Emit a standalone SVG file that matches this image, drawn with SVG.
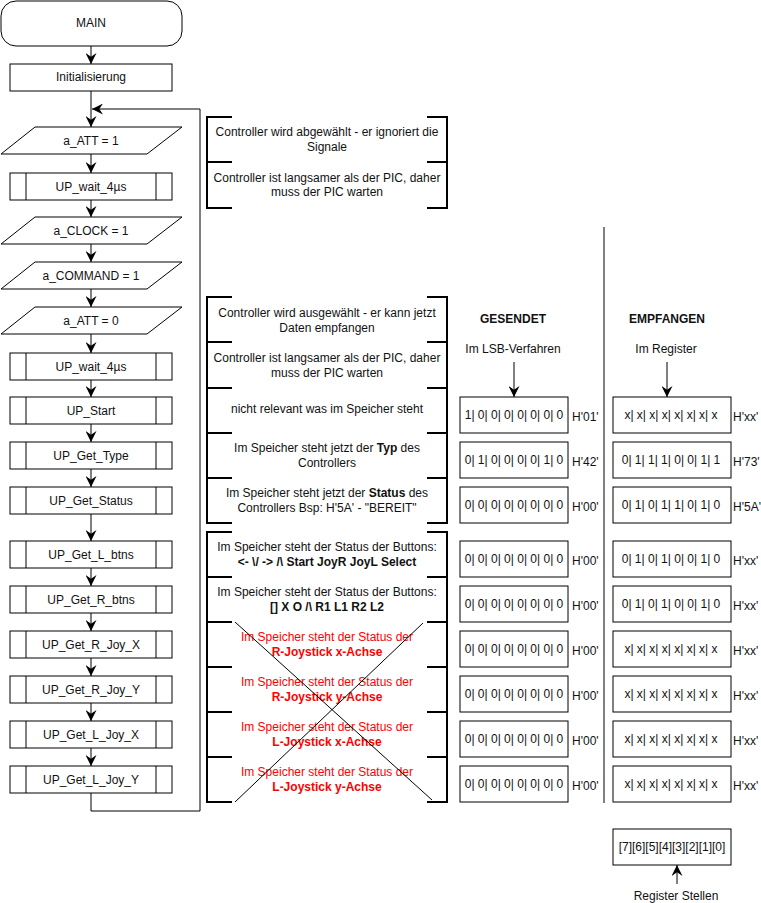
<svg xmlns="http://www.w3.org/2000/svg" width="761" height="903" viewBox="0 0 761 903">
<style>
text{font-family:"Liberation Sans",Arial,sans-serif;font-size:12px;fill:#111;}
.c{text-anchor:middle;}
.b{font-weight:bold;}
.r{fill:#ff0000;}
.box{fill:#fff;stroke:#000;stroke-width:1;}
.ln{fill:none;stroke:#000;stroke-width:1;}
.br{fill:none;stroke:#000;stroke-width:2;}
.con{fill:none;stroke:#000;stroke-width:1;}
</style>
<defs>
<marker id="arr" viewBox="0 0 12 12" refX="12" refY="6" markerWidth="11" markerHeight="11" orient="auto" markerUnits="userSpaceOnUse">
<path d="M0,0 L12,6 L0,12 L4,6 z" fill="#000"/>
</marker>
</defs>
<rect width="761" height="903" fill="#fff"/>

<!-- flowchart nodes -->
<g id="n_main"><rect class="box" x="1" y="1" width="181" height="45" rx="15"/><text class="c" x="91" y="27">MAIN</text></g>
<g id="n_init"><rect class="box" x="10" y="64" width="162" height="27"/><text class="c" x="91" y="81">Initialisierung</text></g>
<g id="n_att1"><polygon class="box" points="35,127 182,127 147,154 1,154"/><text class="c" x="91" y="145">a_ATT = 1</text></g>
<g id="n_wait1"><rect class="box" x="10" y="173" width="162" height="27"/><path class="ln" d="M26,173V200M156,173V200"/><text class="c" x="91" y="191">UP_wait_4µs</text></g>
<g id="n_clock"><polygon class="box" points="35,217 182,217 147,244 1,244"/><text class="c" x="91" y="235">a_CLOCK = 1</text></g>
<g id="n_cmd"><polygon class="box" points="35,262 182,262 147,289 1,289"/><text class="c" x="91" y="280">a_COMMAND = 1</text></g>
<g id="n_att0"><polygon class="box" points="35,307 182,307 147,334 1,334"/><text class="c" x="91" y="325">a_ATT = 0</text></g>
<g id="n_wait2"><rect class="box" x="10" y="353" width="162" height="27"/><path class="ln" d="M26,353V380M156,353V380"/><text class="c" x="91" y="371">UP_wait_4µs</text></g>
<g id="n_start"><rect class="box" x="10" y="397" width="162" height="27"/><path class="ln" d="M26,397V424M156,397V424"/><text class="c" x="91" y="415">UP_Start</text></g>
<g id="n_type"><rect class="box" x="10" y="442" width="162" height="27"/><path class="ln" d="M26,442V469M156,442V469"/><text class="c" x="91" y="460">UP_Get_Type</text></g>
<g id="n_status"><rect class="box" x="10" y="487" width="162" height="27"/><path class="ln" d="M26,487V514M156,487V514"/><text class="c" x="91" y="505">UP_Get_Status</text></g>
<g id="n_lbtns"><rect class="box" x="10" y="541" width="162" height="27"/><path class="ln" d="M26,541V568M156,541V568"/><text class="c" x="91" y="559">UP_Get_L_btns</text></g>
<g id="n_rbtns"><rect class="box" x="10" y="586" width="162" height="27"/><path class="ln" d="M26,586V613M156,586V613"/><text class="c" x="91" y="604">UP_Get_R_btns</text></g>
<g id="n_rjx"><rect class="box" x="10" y="631" width="162" height="27"/><path class="ln" d="M26,631V658M156,631V658"/><text class="c" x="91" y="649">UP_Get_R_Joy_X</text></g>
<g id="n_rjy"><rect class="box" x="10" y="676" width="162" height="27"/><path class="ln" d="M26,676V703M156,676V703"/><text class="c" x="91" y="694">UP_Get_R_Joy_Y</text></g>
<g id="n_ljx"><rect class="box" x="10" y="721" width="162" height="27"/><path class="ln" d="M26,721V748M156,721V748"/><text class="c" x="91" y="739">UP_Get_L_Joy_X</text></g>
<g id="n_ljy"><rect class="box" x="10" y="766" width="162" height="27"/><path class="ln" d="M26,766V793M156,766V793"/><text class="c" x="91" y="784">UP_Get_L_Joy_Y</text></g>

<!-- connectors -->
<g id="connectors">
<path class="con" marker-end="url(#arr)" d="M91,46V64"/>
<path class="con" marker-end="url(#arr)" d="M91,91V127"/>
<path class="con" marker-end="url(#arr)" d="M91,154V173"/>
<path class="con" marker-end="url(#arr)" d="M91,200V217"/>
<path class="con" marker-end="url(#arr)" d="M91,244V262"/>
<path class="con" marker-end="url(#arr)" d="M91,289V307"/>
<path class="con" marker-end="url(#arr)" d="M91,334V353"/>
<path class="con" marker-end="url(#arr)" d="M91,380V397"/>
<path class="con" marker-end="url(#arr)" d="M91,424V442"/>
<path class="con" marker-end="url(#arr)" d="M91,469V487"/>
<path class="con" marker-end="url(#arr)" d="M91,514V541"/>
<path class="con" marker-end="url(#arr)" d="M91,568V586"/>
<path class="con" marker-end="url(#arr)" d="M91,613V631"/>
<path class="con" marker-end="url(#arr)" d="M91,658V676"/>
<path class="con" marker-end="url(#arr)" d="M91,703V721"/>
<path class="con" marker-end="url(#arr)" d="M91,748V766"/>
<path class="con" marker-end="url(#arr)" d="M91,793V811H200V109H92"/>
<path class="con" marker-end="url(#arr)" d="M514,362V397"/>
<path class="con" marker-end="url(#arr)" d="M667,362V397"/>
<path class="con" marker-end="url(#arr)" d="M677,884V865"/>
</g>

<!-- annotation brackets -->
<g id="notes1">
<path class="br" d="M232,117H207V208H232M207,162H232M427,117H447V208H427M427,162H447"/>
<text class="c" x="327" y="136">Controller wird abgewählt - er ignoriert die</text>
<text class="c" x="327" y="151">Signale</text>
<text class="c" x="327" y="182">Controller ist langsamer als der PIC, daher</text>
<text class="c" x="327" y="196">muss der PIC warten</text>
</g>
<g id="notes2">
<path class="br" d="M232,297H207V523H232M207,342H232M207,388H232M207,433H232M207,478H232M427,297H447V523H427M427,342H447M427,388H447M427,433H447M427,478H447"/>
<text class="c" x="327" y="317">Controller wird ausgewählt - er kann jetzt</text>
<text class="c" x="327" y="332">Daten empfangen</text>
<text class="c" x="327" y="362">Controller ist langsamer als der PIC, daher</text>
<text class="c" x="327" y="377">muss der PIC warten</text>
<text class="c" x="327" y="413">nicht relevant was im Speicher steht</text>
<text class="c" x="327" y="452">Im Speicher steht jetzt der <tspan class="b">Typ</tspan> des</text>
<text class="c" x="327" y="467">Controllers</text>
<text class="c" x="327" y="497">Im Speicher steht jetzt der <tspan class="b">Status</tspan> des</text>
<text class="c" x="327" y="512">Controllers Bsp: H'5A' - "BEREIT"</text>
</g>
<g id="notes3">
<path class="br" d="M232,532H207V802H232M207,577H232M207,622H232M207,667H232M207,712H232M207,757H232M427,532H447V802H427M427,577H447M427,622H447M427,667H447M427,712H447M427,757H447"/>
<text class="c" x="327" y="551">Im Speicher steht der Status der Buttons:</text>
<text class="c b" x="327" y="566">&lt;- \/ -&gt; /\ Start JoyR JoyL Select</text>
<text class="c" x="327" y="596">Im Speicher steht der Status der Buttons:</text>
<text class="c b" x="327" y="611">[] X O /\ R1 L1 R2 L2</text>
<text class="c r" x="327" y="641">Im Speicher steht der Status der</text>
<text class="c r b" x="327" y="656">R-Joystick x-Achse</text>
<text class="c r" x="327" y="686">Im Speicher steht der Status der</text>
<text class="c r b" x="327" y="701">R-Joystick y-Achse</text>
<text class="c r" x="327" y="731">Im Speicher steht der Status der</text>
<text class="c r b" x="327" y="746">L-Joystick x-Achse</text>
<text class="c r" x="327" y="776">Im Speicher steht der Status der</text>
<text class="c r b" x="327" y="791">L-Joystick y-Achse</text>
<path class="ln" d="M235,622L432,800M423,623L235,802"/>
</g>

<!-- headers and divider -->
<g id="headers">
<text class="c b" x="513" y="323">GESENDET</text>
<text class="c" x="513" y="353">Im LSB-Verfahren</text>
<text class="c b" x="667" y="323">EMPFANGEN</text>
<text class="c" x="666" y="353">Im Register</text>
<path class="ln" d="M604,227V803" stroke-width="1.5"/>
</g>

<!-- sent boxes -->
<g id="sent">
<rect class="box" x="460" y="397" width="108" height="36"/><text class="c" x="514" y="419">1| 0| 0| 0| 0| 0| 0| 0</text><text x="572" y="421">H'01'</text>
<rect class="box" x="460" y="442" width="108" height="36"/><text class="c" x="514" y="464">0| 1| 0| 0| 0| 0| 1| 0</text><text x="572" y="466">H'42'</text>
<rect class="box" x="460" y="487" width="108" height="36"/><text class="c" x="514" y="509">0| 0| 0| 0| 0| 0| 0| 0</text><text x="572" y="511">H'00'</text>
<rect class="box" x="460" y="541" width="108" height="36"/><text class="c" x="514" y="563">0| 0| 0| 0| 0| 0| 0| 0</text><text x="572" y="565">H'00'</text>
<rect class="box" x="460" y="586" width="108" height="36"/><text class="c" x="514" y="608">0| 0| 0| 0| 0| 0| 0| 0</text><text x="572" y="610">H'00'</text>
<rect class="box" x="460" y="631" width="108" height="36"/><text class="c" x="514" y="653">0| 0| 0| 0| 0| 0| 0| 0</text><text x="572" y="655">H'00'</text>
<rect class="box" x="460" y="676" width="108" height="36"/><text class="c" x="514" y="698">0| 0| 0| 0| 0| 0| 0| 0</text><text x="572" y="700">H'00'</text>
<rect class="box" x="460" y="721" width="108" height="36"/><text class="c" x="514" y="743">0| 0| 0| 0| 0| 0| 0| 0</text><text x="572" y="745">H'00'</text>
<rect class="box" x="460" y="766" width="108" height="36"/><text class="c" x="514" y="788">0| 0| 0| 0| 0| 0| 0| 0</text><text x="572" y="790">H'00'</text>
</g>

<!-- received boxes -->
<g id="received">
<rect class="box" x="613" y="397" width="118" height="36"/><text class="c" x="671" y="419">x| x| x| x| x| x| x| x</text><text x="733" y="421">H'xx'</text>
<rect class="box" x="613" y="442" width="118" height="36"/><text class="c" x="671" y="464">0| 1| 1| 1| 0| 0| 1| 1</text><text x="733" y="466">H'73'</text>
<rect class="box" x="613" y="487" width="118" height="36"/><text class="c" x="671" y="509">0| 1| 0| 1| 1| 0| 1| 0</text><text x="733" y="511">H'5A'</text>
<rect class="box" x="613" y="541" width="118" height="36"/><text class="c" x="671" y="563">0| 1| 0| 1| 0| 0| 1| 0</text><text x="733" y="565">H'xx'</text>
<rect class="box" x="613" y="586" width="118" height="36"/><text class="c" x="671" y="608">0| 1| 0| 1| 0| 0| 1| 0</text><text x="733" y="610">H'xx'</text>
<rect class="box" x="613" y="631" width="118" height="36"/><text class="c" x="671" y="653">x| x| x| x| x| x| x| x</text><text x="733" y="655">H'xx'</text>
<rect class="box" x="613" y="676" width="118" height="36"/><text class="c" x="671" y="698">x| x| x| x| x| x| x| x</text><text x="733" y="700">H'xx'</text>
<rect class="box" x="613" y="721" width="118" height="36"/><text class="c" x="671" y="743">x| x| x| x| x| x| x| x</text><text x="733" y="745">H'xx'</text>
<rect class="box" x="613" y="766" width="118" height="36"/><text class="c" x="671" y="788">x| x| x| x| x| x| x| x</text><text x="733" y="790">H'xx'</text>
</g>

<g id="register">
<rect class="box" x="613" y="829" width="118" height="36"/><text class="c" x="672" y="851">[7][6][5][4][3][2][1][0]</text>
<text class="c" x="676" y="900">Register Stellen</text>
</g>
</svg>
